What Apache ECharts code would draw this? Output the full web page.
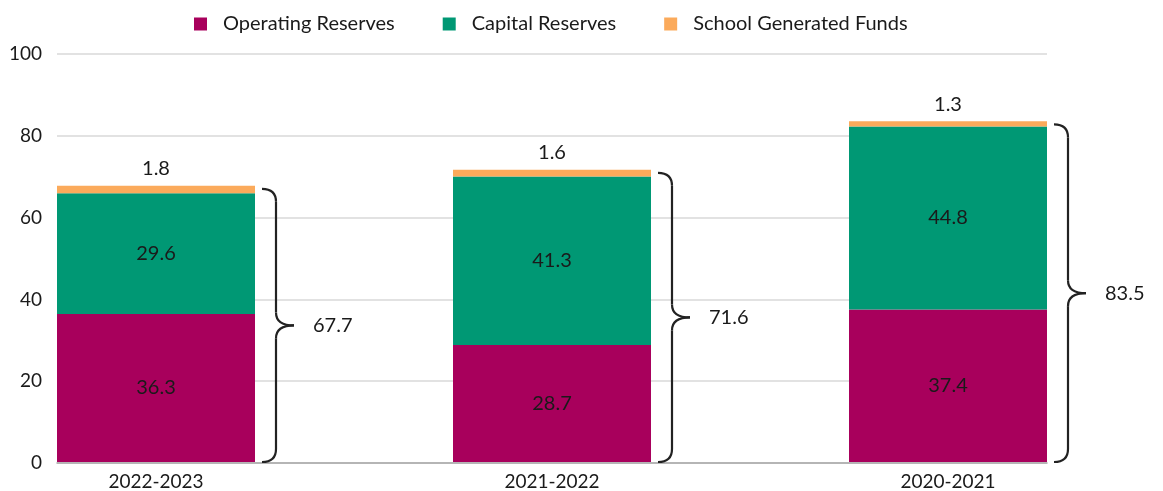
<!DOCTYPE html>
<html>
<head>
<meta charset="utf-8">
<script src="https://cdn.jsdelivr.net/npm/echarts@6/dist/echarts.min.js"></script>
<style>html,body{margin:0;padding:0;background:#fff}#c{width:1163px;height:491px}</style>
</head>
<body>
<div id="c"></div>
<script>
const categories = ['2022-2023', '2021-2022', '2020-2021'];
const operatingReserves = [36.3, 28.7, 37.4];
const capitalReserves = [29.6, 41.3, 44.8];
const schoolGeneratedFunds = [1.8, 1.6, 1.3];
const totals = [67.7, 71.6, 83.5];
const yTicks = [0, 20, 40, 60, 80, 100];

const FONT = 'Lato';
const BAR_W = 198;
const TXT = '#1a1a1a';

const chart = echarts.init(document.getElementById('c'));

const braceData = categories.map((c, i) => [i, totals[i]]);

const option = {
  animation: false,
  textStyle: { fontFamily: FONT },
  legend: {
    top: 9,
    left: 189,
    itemWidth: 13,
    itemHeight: 13,
    itemGap: 48,
    icon: 'rect',
    textStyle: { fontFamily: FONT, fontSize: 20, color: TXT, padding: [0, 0, 0, 11] },
    data: ['Operating Reserves', 'Capital Reserves', 'School Generated Funds']
  },
  grid: [
    { left: 156, right: 215, top: 54, bottom: 28 },
    { left: 57, right: 116, top: 54, bottom: 28 }
  ],
  xAxis: [
    {
      type: 'category', gridIndex: 0, data: categories, boundaryGap: false,
      axisLine: { show: false }, axisTick: { show: false },
      axisLabel: { fontFamily: FONT, fontSize: 19, color: TXT, margin: 10 }
    },
    {
      type: 'value', gridIndex: 1, min: 0, max: 1,
      axisLine: { show: true, onZero: false, lineStyle: { color: '#a6a6a6', width: 1.5 } },
      axisTick: { show: false }, axisLabel: { show: false }, splitLine: { show: false }
    }
  ],
  yAxis: [
    { type: 'value', gridIndex: 0, min: yTicks[0], max: yTicks[yTicks.length - 1], interval: 20, show: false },
    {
      type: 'value', gridIndex: 1, min: yTicks[0], max: yTicks[yTicks.length - 1], interval: 20,
      axisLine: { show: false }, axisTick: { show: false },
      axisLabel: { fontFamily: FONT, fontSize: 19, color: TXT, margin: 15 },
      splitLine: { lineStyle: { color: '#d9d9d9', width: 1.5 } }
    }
  ],
  series: [
    {
      name: 'Operating Reserves', type: 'bar', stack: 'a', xAxisIndex: 0, yAxisIndex: 0,
      barWidth: BAR_W, clip: false, data: operatingReserves,
      itemStyle: { color: '#a8005c' },
      label: { show: true, position: 'inside', fontFamily: FONT, fontSize: 20, color: TXT }
    },
    {
      name: 'Capital Reserves', type: 'bar', stack: 'a', xAxisIndex: 0, yAxisIndex: 0,
      barWidth: BAR_W, clip: false, data: capitalReserves,
      itemStyle: { color: '#009874' },
      label: { show: true, position: 'inside', fontFamily: FONT, fontSize: 20, color: TXT }
    },
    {
      name: 'School Generated Funds', type: 'bar', stack: 'a', xAxisIndex: 0, yAxisIndex: 0,
      barWidth: BAR_W, clip: false, data: schoolGeneratedFunds,
      itemStyle: { color: '#fbaa5b' },
      label: { show: true, position: 'top', distance: 7, fontFamily: FONT, fontSize: 20, color: TXT }
    },
    {
      type: 'custom', xAxisIndex: 0, yAxisIndex: 0, clip: false, silent: true,
      data: braceData,
      renderItem: function (params, api) {
        const top = api.coord([api.value(0), api.value(1)]);
        const bot = api.coord([api.value(0), 0]);
        const right = top[0] + BAR_W / 2;
        const x0 = right + 7, x1 = right + 21, tip = right + 39;
        const yT = top[1] + 3, yB = bot[1];
        const yM = (yT + yB) / 2;
        const r = 13;
        const st = { stroke: '#222', lineWidth: 2.2, fill: null };
        return {
          type: 'group',
          children: [
            { type: 'bezierCurve', shape: { x1: x0, y1: yT, cpx1: x1, cpy1: yT, x2: x1, y2: yT + r }, style: st },
            { type: 'line', shape: { x1: x1, y1: yT + r, x2: x1, y2: yM - r }, style: st },
            { type: 'bezierCurve', shape: { x1: x1, y1: yM - r, cpx1: x1, cpy1: yM, x2: tip, y2: yM }, style: st },
            { type: 'bezierCurve', shape: { x1: tip, y1: yM, cpx1: x1, cpy1: yM, x2: x1, y2: yM + r }, style: st },
            { type: 'line', shape: { x1: x1, y1: yM + r, x2: x1, y2: yB - r }, style: st },
            { type: 'bezierCurve', shape: { x1: x1, y1: yB - r, cpx1: x1, cpy1: yB, x2: x0, y2: yB }, style: st },
            {
              type: 'text',
              style: {
                x: tip + 19, y: yM, text: totals[params.dataIndex].toFixed(1),
                textAlign: 'left', textVerticalAlign: 'middle',
                fontFamily: FONT, fontSize: 20, fill: TXT
              }
            }
          ]
        };
      }
    }
  ]
};
chart.setOption(option);
</script>
</body>
</html>
